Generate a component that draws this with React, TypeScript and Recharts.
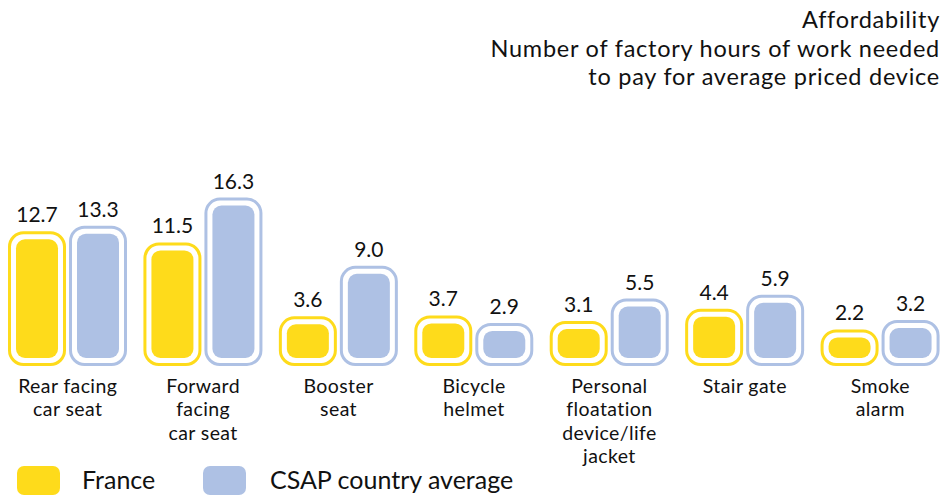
import React from "react";
import { BarChart, Bar, XAxis, YAxis } from "recharts";

const categories = [
  "Rear facing car seat",
  "Forward facing car seat",
  "Booster seat",
  "Bicycle helmet",
  "Personal floatation device/life jacket",
  "Stair gate",
  "Smoke alarm",
];
const categoryLines = [
  ["Rear facing", "car seat"],
  ["Forward", "facing", "car seat"],
  ["Booster", "seat"],
  ["Bicycle", "helmet"],
  ["Personal", "floatation", "device/life", "jacket"],
  ["Stair gate"],
  ["Smoke", "alarm"],
];
const franceValues = [12.7, 11.5, 3.6, 3.7, 3.1, 4.4, 2.2];
const csapValues = [13.3, 16.3, 9.0, 2.9, 5.5, 5.9, 3.2];
const titleLines = [
  "Affordability",
  "Number of factory hours of work needed",
  "to pay for average priced device",
];
const seriesNames = ["France", "CSAP country average"];

const YELLOW = "#FEDB1B";
const BLUE = "#AEC1E4";
const TEXT = "#111111";
const FONT = "Lato, 'DejaVu Sans', sans-serif";

const data = categories.map((c, i) => ({
  name: c,
  lines: categoryLines[i],
  france: franceValues[i],
  csap: csapValues[i],
}));

const makeShape = (color: string) => (props: any) => {
  const { x, y, width, height, value } = props;
  const inset = 8;
  const sw = 3;
  const ox = x + sw / 2;
  const oy = y - inset + sw / 2;
  const ow = width - sw;
  const oh = height + inset * 2 - sw;
  const v = Array.isArray(value) ? value[1] - value[0] : value;
  return (
    <g>
      <rect
        x={ox}
        y={oy}
        width={ow}
        height={oh}
        rx={14}
        ry={14}
        fill="#ffffff"
        stroke={color}
        strokeWidth={sw}
      />
      <rect
        x={x + inset}
        y={y}
        width={width - inset * 2}
        height={height}
        rx={9}
        ry={9}
        fill={color}
      />
      <text
        x={x + width / 2}
        y={y - 17}
        textAnchor="middle"
        fontFamily={FONT}
        fontSize={21}
        fill={TEXT}
      >
        {Number(v).toFixed(1)}
      </text>
    </g>
  );
};

const CategoryTick = (props: any) => {
  const { x, y, index } = props;
  const lines = categoryLines[index] || [];
  return (
    <g>
      {lines.map((l: string, i: number) => (
        <text
          key={i}
          x={x}
          y={y + 34.5 + i * 23.6}
          textAnchor="middle"
          fontFamily={FONT}
          fontSize={19.5}
          letterSpacing={0.4}
          fill={TEXT}
        >
          {l}
        </text>
      ))}
    </g>
  );
};

export default function App() {
  return (
    <div
      style={{
        position: "absolute",
        left: 0,
        top: 0,
        width: 951,
        height: 498,
        background: "#fff",
      }}
    >
      <BarChart
        width={951}
        height={498}
        data={data}
        margin={{ top: 171, right: 3, bottom: 0, left: 0 }}
        barCategoryGap={8}
        barGap={3}
      >
        <XAxis
          dataKey="name"
          axisLine={false}
          tickLine={false}
          tickSize={0}
          tickMargin={0}
          height={140}
          interval={0}
          tick={<CategoryTick />}
        />
        <YAxis hide domain={[0, 20]} />
        <Bar
          dataKey="france"
          name={seriesNames[0]}
          fill={YELLOW}
          isAnimationActive={false}
          shape={makeShape(YELLOW)}
        />
        <Bar
          dataKey="csap"
          name={seriesNames[1]}
          fill={BLUE}
          isAnimationActive={false}
          shape={makeShape(BLUE)}
        />
      </BarChart>
      <svg
        width={951}
        height={498}
        style={{ position: "absolute", left: 0, top: 0, pointerEvents: "none" }}
      >
        {titleLines.map((t, i) => (
          <text
            key={i}
            x={940}
            y={28 + i * 28.7}
            textAnchor="end"
            fontFamily={FONT}
            fontSize={23.5}
            letterSpacing={0.75}
            fill={TEXT}
          >
            {t}
          </text>
        ))}
        <rect x={17} y={466} width={43} height={29} rx={7} fill={YELLOW} />
        <text x={82} y={489} fontFamily={FONT} fontSize={25} fill={TEXT}>
          {seriesNames[0]}
        </text>
        <rect x={203} y={466} width={43} height={29} rx={7} fill={BLUE} />
        <text x={270} y={489} fontFamily={FONT} fontSize={25} fill={TEXT}>
          {seriesNames[1]}
        </text>
      </svg>
    </div>
  );
}
